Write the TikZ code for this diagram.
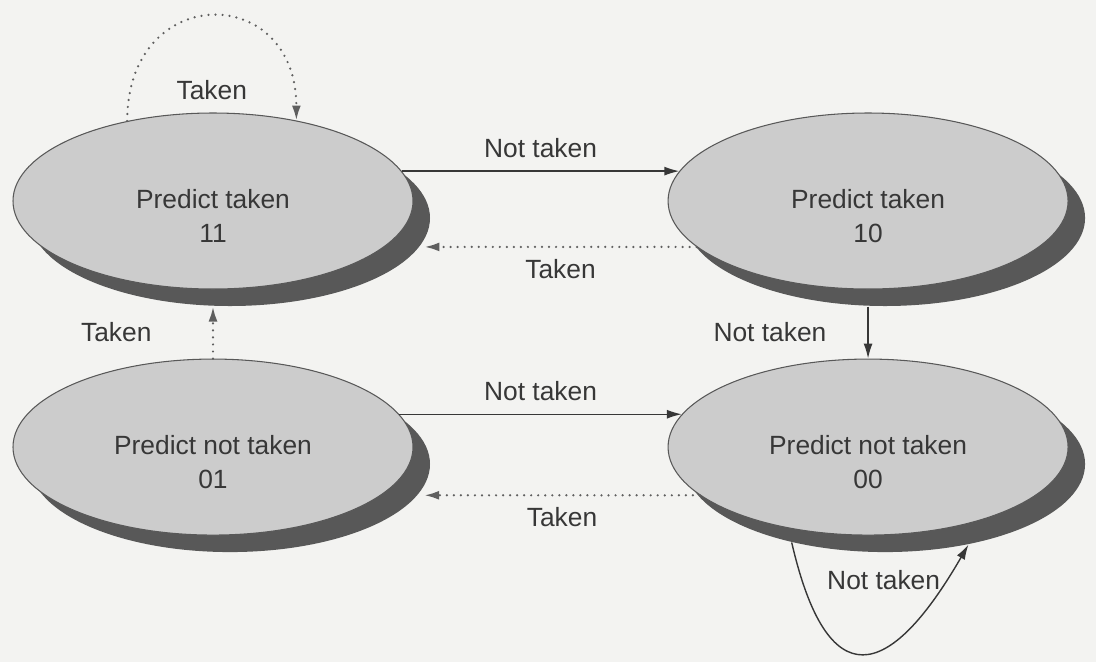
\documentclass[tikz,border=0pt]{standalone}
\usepackage{fontspec}
\setmainfont{Liberation Sans}
\usetikzlibrary{arrows.meta,positioning,shapes.geometric,shadows}
\definecolor{PaperGray}{RGB}{243,243,241}
\definecolor{FaceGray}{RGB}{204,204,204}
\definecolor{ShadowGray}{RGB}{88,88,88}
\definecolor{InkGray}{RGB}{55,55,55}
\definecolor{DotGray}{RGB}{95,95,95}
\newcommand{\statestrut}{\rule{0pt}{.98cm}}

\begin{document}
\begin{tikzpicture}[node distance=1.38cm and 5.08cm, every node/.style={font=\fontsize{15}{19}\selectfont,align=center,text=InkGray},
predstate/.style={ellipse,draw=ShadowGray,line width=.6pt,fill=FaceGray,minimum width=8cm,minimum height=3.52cm,inner sep=0pt,
  drop shadow={shadow xshift=.34cm,shadow yshift=-.34cm,fill=ShadowGray,opacity=1}},
arrow/.style={-{Latex[length=3mm,width=1.8mm]},draw=InkGray,line width=.8pt},
taken/.style={-{Latex[length=3mm,width=1.8mm]},draw=DotGray,line width=1.4pt,line cap=round,dash pattern=on 0pt off 4pt}]
\useasboundingbox[fill=PaperGray] (0,0) rectangle (21.92,-13.24);
\node[predstate] (s11) at (4.26,-4.02) {\statestrut Predict taken\\11};
\node[predstate,right=of s11] (s10) {\statestrut Predict taken\\10};
\node[predstate,below=of s11] (s01) {\statestrut Predict not taken\\01};
\node[predstate,below=of s10] (s00) {\statestrut Predict not taken\\00};
\draw[taken] (s11.137) to[out=90,in=90,looseness=2.1] node[midway,below=1.13cm] {Taken} (s11.44);
\draw[arrow] (s11.9) -- node[above=4pt] {Not taken} (s10.171);
\draw[taken] (s10.195) -- node[below=3pt] {Taken} ([xshift=.8cm]s11.-15);
\draw[arrow] ([yshift=-.34cm]s10.south) -- node[left=20pt] {Not taken} (s00.north);
\draw[taken] (s01.north) -- node[left=31pt] {Taken} ([yshift=-.34cm]s11.south);
\draw[arrow] (s01.10) -- node[above=4pt] {Not taken} (s00.170);
\draw[taken] (s00.196) -- node[below=3pt] {Taken} ([xshift=.86cm]s01.-16);
\draw[arrow] ([xshift=.34cm,yshift=-.34cm]s00.220) to[out=-77,in=-120,looseness=2.3] node[midway,above=1.15cm,xshift=.4cm] {Not taken} ([xshift=.34cm,yshift=-.34cm]s00.-44);
\end{tikzpicture}
\end{document}
